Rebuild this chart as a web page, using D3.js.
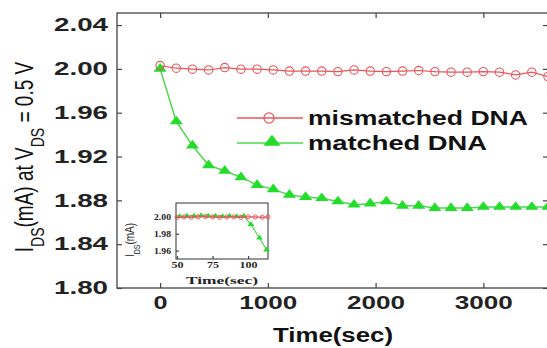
<!DOCTYPE html>
<html>
<head>
<meta charset="utf-8">
<script src="https://cdn.jsdelivr.net/npm/d3@7"></script>
<style>
  html, body { margin: 0; padding: 0; background: #fff; }
  svg { display: block; font-family: "Liberation Sans", Arial, sans-serif; }
</style>
</head>
<body>
<div id="app"></div>
<script>
// main chart data (time in sec, I_DS in mA)
const times = [0, 150, 300, 450, 600, 750, 900, 1050, 1200, 1350, 1500, 1650, 1800,
  1950, 2100, 2250, 2400, 2550, 2700, 2850, 3000, 3150, 3300, 3450, 3600];
const mismatched = [2.003, 2.0006, 1.9997, 1.999, 2.0012, 1.9997, 1.9997, 1.999, 1.998,
  1.998, 1.998, 1.9975, 1.999, 1.998, 1.9975, 1.998, 1.9985, 1.9975, 1.997, 1.997,
  1.9975, 1.997, 1.9945, 1.997, 1.993];
const matched = [2.000, 1.952, 1.930, 1.912, 1.907, 1.901, 1.894, 1.890, 1.885, 1.883,
  1.882, 1.879, 1.876, 1.877, 1.879, 1.875, 1.875, 1.873, 1.873, 1.873, 1.874, 1.874,
  1.874, 1.874, 1.874];
const yTicks = [1.80, 1.84, 1.88, 1.92, 1.96, 2.00, 2.04];
const xTicks = [0, 1000, 2000, 3000];

// inset data
const insetTimes = [50, 55, 60, 65, 70, 75, 80, 85, 90, 95, 100, 105, 110, 114];
const insetMismatched = [1.9995, 2.000, 1.9995, 2.000, 2.0005, 2.000, 1.9995, 2.000,
  2.000, 1.9995, 2.000, 2.000, 1.9995, 2.000];
const insetMatchedTimes = [52, 57, 62, 67, 72, 77, 82, 87, 92, 97, 102, 108, 113];
const insetMatched = [2.0005, 2.001, 2.001, 2.0015, 2.001, 2.001, 2.0005, 2.001, 2.0005,
  2.001, 1.991, 1.975, 1.961];
const insetYTicks = [1.96, 1.98, 2.00];
const insetXTicks = [50, 75, 100];

const width = 547, height = 348;
const red = "#e8555a", green = "#22dd2a", greenLine = "#4cd84c";

const svg = d3.select("#app").append("svg")
  .attr("width", width).attr("height", height)
  .attr("viewBox", [0, 0, width, height]);

const x = d3.scaleLinear().domain([-400, 3600]).range([117, 548]);
const y = d3.scaleLinear().domain([1.80, 2.051]).range([288, 13]);

// frame
svg.append("rect")
  .attr("x", 117).attr("y", 13).attr("width", 431).attr("height", 275)
  .attr("fill", "none").attr("stroke", "#444").attr("stroke-width", 1.3);

function styleAxis(g) {
  g.select(".domain").remove();
  g.selectAll(".tick line").attr("stroke", "#444").attr("stroke-width", 1.2);
}

svg.append("g").attr("transform", "translate(117,0)")
  .call(d3.axisLeft(y).tickValues(yTicks).tickSize(-5).tickPadding(9).tickFormat(d3.format(".2f")))
  .call(styleAxis)
  .call(g => g.selectAll("text")
    .attr("font-size", 18).attr("font-weight", "bold").attr("fill", "#222")
    .attr("font-family", "Liberation Sans, Arial")
    .attr("textLength", 54).attr("lengthAdjust", "spacingAndGlyphs"));
svg.append("g").attr("transform", "translate(548,0)")
  .call(d3.axisRight(y).tickValues(yTicks).tickSize(-5).tickFormat(""))
  .call(styleAxis);
svg.append("g").attr("transform", "translate(0,288)")
  .call(d3.axisBottom(x).tickValues(xTicks).tickSize(-5).tickPadding(8).tickFormat(d3.format("d")))
  .call(styleAxis)
  .call(g => g.selectAll("text")
    .attr("font-size", 18).attr("font-weight", "bold").attr("fill", "#222")
    .attr("font-family", "Liberation Sans, Arial")
    .attr("textLength", d => d === 0 ? 14 : 58).attr("lengthAdjust", "spacingAndGlyphs"));
svg.append("g").attr("transform", "translate(0,13)")
  .call(d3.axisTop(x).tickValues(xTicks).tickSize(-5).tickFormat(""))
  .call(styleAxis);

// axis titles
svg.append("text")
  .attr("x", 333).attr("y", 342)
  .attr("text-anchor", "middle")
  .attr("font-size", 20).attr("font-weight", "bold").attr("fill", "#111")
  .attr("textLength", 120).attr("lengthAdjust", "spacingAndGlyphs")
  .text("Time(sec)");

const yTitle = svg.append("text")
  .attr("transform", "translate(33,157) scale(1.35,1) rotate(-90)")
  .attr("text-anchor", "middle")
  .attr("font-size", 19).attr("fill", "#111");
yTitle.append("tspan").text("I");
yTitle.append("tspan").attr("font-size", 14).attr("baseline-shift", "sub").text("DS");
yTitle.append("tspan").text("(mA) at V");
yTitle.append("tspan").attr("font-size", 14).attr("baseline-shift", "sub").text("DS");
yTitle.append("tspan").text(" = 0.5 V");

// series
const line = d3.line().x(d => x(d[0])).y(d => y(d[1]));
const redPts = times.map((t, i) => [t, mismatched[i]]);
const greenPts = times.map((t, i) => [t, matched[i]]);

const plot = svg.append("g");
plot.append("path").datum(redPts).attr("d", line)
  .attr("fill", "none").attr("stroke", red).attr("stroke-width", 1.2);
plot.append("path").datum(greenPts).attr("d", line)
  .attr("fill", "none").attr("stroke", greenLine).attr("stroke-width", 1.5);

const tri = d3.symbol(d3.symbolTriangle, 48);
const circ = d3.symbol(d3.symbolCircle, 55);

plot.selectAll(".tri").data(greenPts).join("path")
  .attr("d", tri)
  .attr("transform", d => `translate(${x(d[0])},${y(d[1])}) scale(1.25,0.95)`)
  .attr("fill", green);
plot.selectAll(".circ").data(redPts).join("path")
  .attr("d", circ)
  .attr("transform", d => `translate(${x(d[0])},${y(d[1])})`)
  .attr("fill", "none").attr("stroke", red).attr("stroke-width", 1.1);

// legend
const legend = svg.append("g");
legend.append("line").attr("x1", 237).attr("x2", 303).attr("y1", 118).attr("y2", 118)
  .attr("stroke", red).attr("stroke-width", 1.3);
legend.append("path").attr("d", d3.symbol(d3.symbolCircle, 80))
  .attr("transform", "translate(269,118)")
  .attr("fill", "none").attr("stroke", red).attr("stroke-width", 1.2);
legend.append("line").attr("x1", 237).attr("x2", 303).attr("y1", 143).attr("y2", 143)
  .attr("stroke", greenLine).attr("stroke-width", 1.5);
legend.append("path").attr("d", d3.symbol(d3.symbolTriangle, 70))
  .attr("transform", "translate(272,142) scale(1.35,1)")
  .attr("fill", green);
legend.append("text").attr("x", 308).attr("y", 125)
  .attr("font-size", 20).attr("font-weight", "bold").attr("fill", "#111")
  .attr("textLength", 220).attr("lengthAdjust", "spacingAndGlyphs")
  .text("mismatched DNA");
legend.append("text").attr("x", 308).attr("y", 150)
  .attr("font-size", 20).attr("font-weight", "bold").attr("fill", "#111")
  .attr("textLength", 179).attr("lengthAdjust", "spacingAndGlyphs")
  .text("matched DNA");

// inset
const ix = d3.scaleLinear().domain([50, 114]).range([177, 268]);
const iy = d3.scaleLinear().domain([1.95, 2.0165]).range([259, 203]);
const inset = svg.append("g");
inset.append("rect")
  .attr("x", 176).attr("y", 203).attr("width", 92).attr("height", 56)
  .attr("fill", "#fff").attr("stroke", "#444").attr("stroke-width", 1.1);

const serif = "Liberation Serif, Times New Roman, serif";
inset.append("g").attr("transform", "translate(176,0)")
  .call(d3.axisLeft(iy).tickValues(insetYTicks).tickSize(-3).tickPadding(5).tickFormat(d3.format(".2f")))
  .call(styleAxis)
  .call(g => g.selectAll("text")
    .attr("font-size", 9).attr("font-weight", "bold").attr("fill", "#222")
    .attr("font-family", serif)
    .attr("textLength", 17).attr("lengthAdjust", "spacingAndGlyphs"));
inset.append("g").attr("transform", "translate(0,259)")
  .call(d3.axisBottom(ix).tickValues(insetXTicks).tickSize(-3).tickPadding(3))
  .call(styleAxis)
  .call(g => g.selectAll("text")
    .attr("font-size", 9).attr("font-weight", "bold").attr("fill", "#222")
    .attr("font-family", serif)
    .attr("textLength", d => d === 100 ? 18 : 12).attr("lengthAdjust", "spacingAndGlyphs"));

inset.append("text")
  .attr("x", 222).attr("y", 284).attr("text-anchor", "middle")
  .attr("font-size", 11).attr("font-weight", "bold").attr("fill", "#222")
  .attr("font-family", serif)
  .attr("textLength", 72).attr("lengthAdjust", "spacingAndGlyphs")
  .text("Time(sec)");
const iyTitle = inset.append("text")
  .attr("transform", "translate(134,240) scale(1.3,1) rotate(-90)")
  .attr("text-anchor", "middle")
  .attr("font-size", 10).attr("fill", "#222");
iyTitle.append("tspan").text("I");
iyTitle.append("tspan").attr("font-size", 7).attr("baseline-shift", "sub").text("DS");
iyTitle.append("tspan").text("(mA)");

const iline = d3.line().x(d => ix(d[0])).y(d => iy(d[1]));
const iRed = insetTimes.map((t, i) => [t, insetMismatched[i]]);
const iGreen = insetMatchedTimes.map((t, i) => [t, insetMatched[i]]);
inset.append("path").datum(iGreen).attr("d", iline)
  .attr("fill", "none").attr("stroke", greenLine).attr("stroke-width", 1.2);
inset.selectAll(".itri").data(iGreen).join("path")
  .attr("d", d3.symbol(d3.symbolTriangle, 14))
  .attr("transform", d => `translate(${ix(d[0])},${iy(d[1])}) scale(1.2,1)`)
  .attr("fill", green);
inset.append("path").datum(iRed).attr("d", iline)
  .attr("fill", "none").attr("stroke", red).attr("stroke-width", 1.2);
inset.selectAll(".icirc").data(iRed).join("path")
  .attr("d", d3.symbol(d3.symbolCircle, 14))
  .attr("transform", d => `translate(${ix(d[0])},${iy(d[1])})`)
  .attr("fill", "none").attr("stroke", red).attr("stroke-width", 0.9);
</script>
</body>
</html>
